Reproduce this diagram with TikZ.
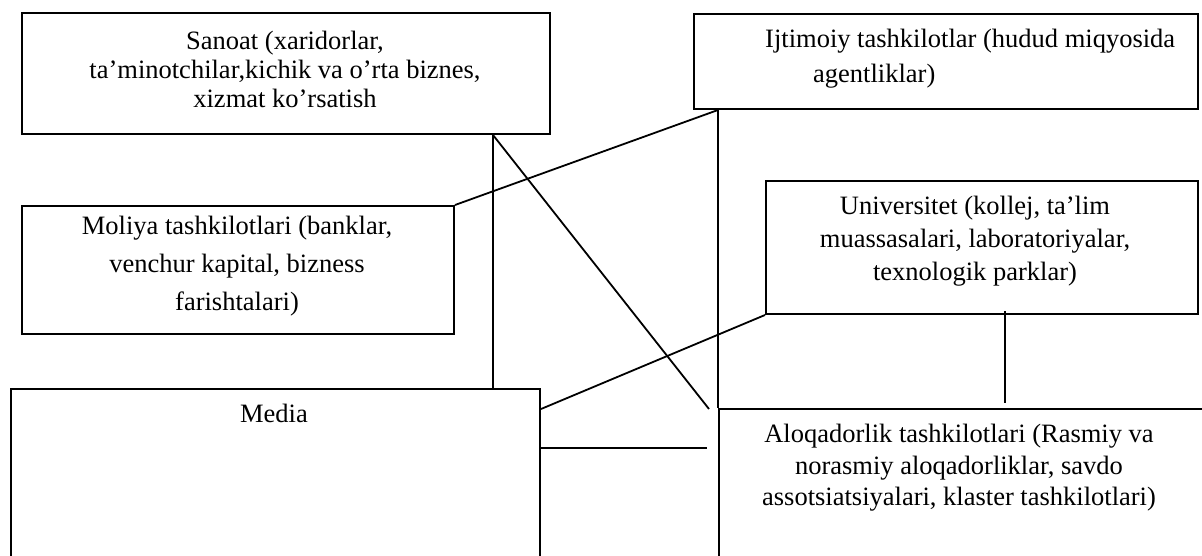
\documentclass[tikz,border=0pt]{standalone}
\usepackage{fontspec}
\setmainfont{Liberation Serif}
\usetikzlibrary{calc}
\begin{document}
\begin{tikzpicture}[x=1pt,y=-1pt,
  box/.style={draw=black, line width=2pt, rectangle, inner sep=0pt, anchor=north west},
  conn/.style={draw=black, line width=1.8pt},
  txt/.style={inner sep=0pt, align=center, anchor=north},
  fs/.style={font=\fontsize{26.5}{#1}\selectfont}]
\useasboundingbox (0,0) rectangle (1202,556);
\clip (0,0) rectangle (1202,556);
% boxes
\node[box, minimum width=528pt, minimum height=121pt] (san) at (21,12) {};
\node[box, minimum width=504pt, minimum height=95pt] (ijt) at (693,13) {};
\node[box, minimum width=432pt, minimum height=128pt] (mol) at (21,205) {};
\node[box, minimum width=432pt, minimum height=133pt] (uni) at (765,180) {};
\node[box, minimum width=529pt, minimum height=190pt] (med) at (10,388) {};
\node[box, minimum width=520pt, minimum height=190pt] (alo) at (718,408) {};
% texts
\node[txt, fs=29] (santxt) at (285,31) {Sanoat (xaridorlar,\\ta’minotchilar,kichik va o’rta biznes,\\xizmat ko’rsatish};
\node[txt, fs=35, align=left, anchor=north west] (ijttxt) at (765,29) {Ijtimoiy tashkilotlar (hudud miqyosida\\\hspace*{48pt}agentliklar)};
\node[txt, fs=38] (moltxt) at (237,216) {Moliya tashkilotlari (banklar,\\venchur kapital, bizness\\farishtalari)};
\node[txt, fs=33] (unitxt) at (975,196) {Universitet (kollej, ta’lim\\muassasalari, laboratoriyalar,\\texnologik parklar)};
\node[txt, fs=31] (medtxt) at (274,404) {Media};
\node[txt, fs=31.5] (alotxt) at (959,424) {Aloqadorlik tashkilotlari (Rasmiy va\\norasmiy aloqadorliklar, savdo\\assotsiatsiyalari, klaster tashkilotlari)};
% connectors
\coordinate (sj) at ($(san.south west)+(472,0)$);
\draw[conn] (sj) -- (sj |- med.north);
\draw[conn] (sj) -- ($(alo.north west)+(-9,1)$);
\draw[conn] (mol.north east) -- (ijt.south -| alo.west);
\draw[conn] (ijt.south -| alo.west) -- (alo.north west);
\draw[conn] ($(med.north east)+(0,21)$) -- (uni.south west);
\draw[conn] ($(med.north east)+(0,60)$) -- ($(alo.north west)+(-11,40)$);
\draw[conn] ($(uni.south)+(23,-4)$) -- ($(alo.north -| uni.south)+(23,-5)$);
\end{tikzpicture}
\end{document}
